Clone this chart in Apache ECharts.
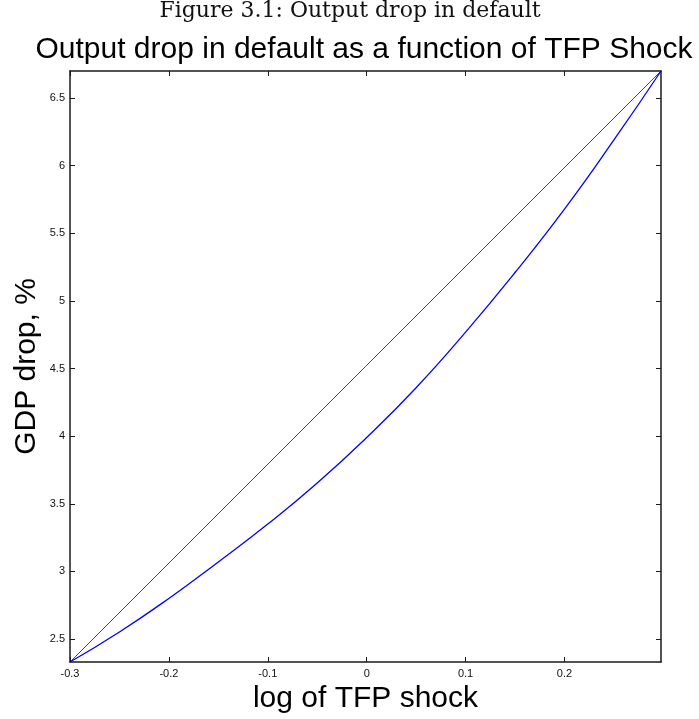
<!DOCTYPE html>
<html>
<head>
<meta charset="utf-8">
<script src="https://cdn.jsdelivr.net/npm/echarts@6/dist/echarts.min.js"></script>
<style>
  html, body { margin: 0; padding: 0; background: #fff; }
  #chart { width: 699px; height: 719px; }
</style>
</head>
<body>
<div id="chart"></div>
<script>
// log of TFP shock (x) and GDP drop in % (y)
const tfpShock = [-0.3, -0.25, -0.2, -0.15, -0.1, -0.05, 0, 0.05, 0.1, 0.15, 0.2, 0.25, 0.2976]
const gdpDrop = [2.33, 2.552, 2.80, 3.07, 3.35, 3.654, 3.99, 4.358, 4.769, 5.21, 5.679, 6.19, 6.70]
// 45-degree reference line, end points only
const diagX = [-0.3, 0.2976]
const diagY = [2.33, 6.70]
const xTicks = [-0.3, -0.2, -0.1, 0, 0.1, 0.2]
const yTicks = [2.5, 3, 3.5, 4, 4.5, 5, 5.5, 6, 6.5]

const xMin = -0.3, xMax = 0.2976
const yMin = 2.33, yMax = 6.70

const myCharts = echarts.init(document.getElementById('chart'))

const axisLine = { show: true, onZero: false, lineStyle: { color: '#1a1a1a', width: 1.5 } }
const tickLine = { lineStyle: { color: '#1a1a1a', width: 1 } }

const option = {
  animation: false,
  graphic: [
    {
      type: 'text', x: 350, y: 0,
      style: { text: 'Figure 3.1: Output drop in default', font: '22px "DejaVu Serif"', fill: '#111', textAlign: 'center' }
    },
    {
      type: 'text', x: 364, y: 35,
      style: { text: 'Output drop in default as a function of TFP Shock', font: '30px "Liberation Sans"', fill: '#000', textAlign: 'center' }
    }
  ],
  grid: { left: 70, top: 71, right: 38, bottom: 57 },
  xAxis: [
    {
      type: 'value', min: xMin, max: xMax,
      axisLine: axisLine,
      axisTick: { show: true, inside: true, length: 5, customValues: xTicks, ...tickLine },
      axisLabel: { customValues: xTicks, color: '#111', fontSize: 11, fontFamily: 'Liberation Sans', margin: 6 },
      splitLine: { show: false },
      name: 'log of TFP shock', nameLocation: 'middle', nameGap: 20,
      nameTextStyle: { fontSize: 30, fontFamily: 'Liberation Sans', color: '#000' }
    },
    {
      type: 'value', min: xMin, max: xMax, position: 'top',
      axisLine: axisLine,
      axisTick: { show: true, inside: true, length: 5, customValues: xTicks, ...tickLine },
      axisLabel: { show: false },
      splitLine: { show: false }
    }
  ],
  yAxis: [
    {
      type: 'value', min: yMin, max: yMax,
      axisLine: axisLine,
      axisTick: { show: true, inside: true, length: 5, customValues: yTicks, ...tickLine },
      axisLabel: { customValues: yTicks, color: '#111', fontSize: 11, fontFamily: 'Liberation Sans', margin: 5 },
      splitLine: { show: false },
      name: 'GDP drop, %', nameLocation: 'middle', nameGap: 28, nameRotate: 90,
      nameMoveOverlap: false,
      nameTextStyle: { fontSize: 30, fontFamily: 'Liberation Sans', color: '#000' }
    },
    {
      type: 'value', min: yMin, max: yMax, position: 'right',
      axisLine: axisLine,
      axisTick: { show: true, inside: true, length: 5, customValues: yTicks, ...tickLine },
      axisLabel: { show: false },
      splitLine: { show: false }
    }
  ],
  series: [
    {
      type: 'line',
      data: diagX.map((x, i) => [x, diagY[i]]),
      showSymbol: false,
      lineStyle: { color: '#000', width: 0.7 }
    },
    {
      type: 'line',
      smooth: true,
      data: tfpShock.map((x, i) => [x, gdpDrop[i]]),
      showSymbol: false,
      lineStyle: { color: '#0000ff', width: 1.3 }
    }
  ]
}
myCharts.setOption(option)
</script>
</body>
</html>
